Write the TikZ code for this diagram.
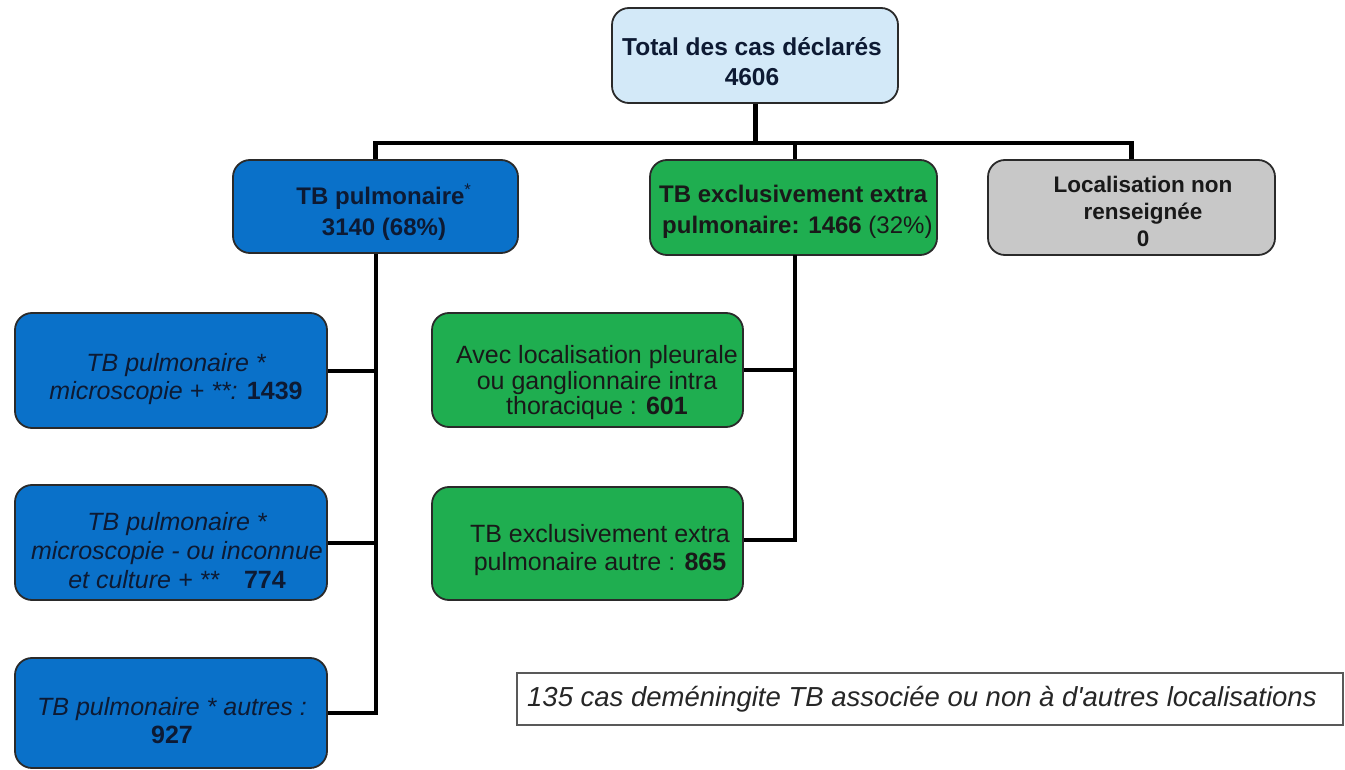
\documentclass[tikz,border=0pt]{standalone}
\usepackage{fontspec}
\setmainfont{Liberation Sans}
\newfontfamily\notefont{Liberation Sans}
\definecolor{topblue}{HTML}{D3E9F8}
\definecolor{pulmblue}{HTML}{0A71C9}
\definecolor{extragreen}{HTML}{1FAE50}
\definecolor{greybox}{HTML}{C8C8C8}
\definecolor{navytxt}{HTML}{0D1A33}
\definecolor{bordercol}{HTML}{2A2A2A}
\begin{document}
\begin{tikzpicture}[x=1pt,y=-1pt,
  box/.style={draw=bordercol,line width=1.8pt,rounded corners=17pt,inner sep=0pt},
  topbox/.style={box,fill=topblue,minimum width=286pt,minimum height=95pt},
  pulmbox/.style={box,fill=pulmblue,minimum height=93pt},
  subpulm/.style={box,fill=pulmblue,minimum width=312pt},
  greenbox/.style={box,fill=extragreen},
  graybox/.style={box,fill=greybox,minimum width=287pt,minimum height=95pt},
  txt/.style={align=center,inner sep=0pt},
  conn/.style={line width=4pt,black},
  bus/.style={line width=4.5pt,black}
]
\useasboundingbox (0,0) rectangle (1345,770);

% boxes
\node[topbox] (total) at (755,55.5) {};
\node[pulmbox,minimum width=285pt] (pulm) at (375.5,206.5) {};
\node[greenbox,minimum width=287pt,minimum height=95pt] (extra) at (793.5,207.5) {};
\node[graybox] (nonr) at (1131.5,207.5) {};

\node[subpulm,minimum height=115pt] (p1) at (171,370.5) {};
\node[subpulm,minimum height=115pt] (p2) at (171,542.5) {};
\node[subpulm,minimum height=110pt] (p3) at (171,713) {};

\node[greenbox,minimum width=311pt,minimum height=114pt] (e1) at (587.5,370) {};
\node[greenbox,minimum width=311pt,minimum height=113pt] (e2) at (587.5,543.5) {};

\node[draw=black!65,line width=1.5pt,fill=white,minimum width=826pt,minimum height=52pt,inner sep=0pt] (note) at (930,699) {};

% texts
\node[txt,font=\fontsize{24.5}{30}\selectfont\bfseries,text=navytxt] (ttotal) at (752,62) {Total des cas déclarés\\4606};
\node[txt,font=\fontsize{24}{31}\selectfont\bfseries,text=navytxt] (tpulm) at (384,212) {TB pulmonaire\textsuperscript{\mdseries*}\\3140 (68\%)};
\node[txt,align=left,anchor=west,font=\fontsize{24}{31}\selectfont\bfseries,text=black!90] (textra) at (659,212) {TB exclusivement extra\\\hspace{3pt}pulmonaire: 1466 {\mdseries(32\%)}};
\node[txt,font=\fontsize{22.5}{27}\selectfont\bfseries,text=black!90] (tnonr) at (1143,211.5) {Localisation non\\renseignée\\0};

\node[txt,font=\fontsize{25}{28}\selectfont\itshape,text=navytxt] (tp1) at (176,379) {TB pulmonaire *\\microscopie + **: \textbf{\upshape 1439}};
\node[txt,font=\fontsize{25}{29}\selectfont\itshape,text=navytxt] (tp2) at (177,551) {TB pulmonaire *\\microscopie - ou inconnue\\et culture + **\quad\textbf{\upshape 774}};
\node[txt,font=\fontsize{25}{28}\selectfont\itshape,text=navytxt] (tp3) at (172,721) {TB pulmonaire * autres :\\\textbf{\upshape 927}};

\node[txt,font=\fontsize{25}{25.5}\selectfont,text=black!90] (te1) at (597,383) {Avec localisation pleurale\\ou ganglionnaire intra\\thoracique : \textbf{601}};
\node[txt,font=\fontsize{25}{28}\selectfont,text=black!90] (te2) at (600,550) {TB exclusivement extra\\pulmonaire autre : \textbf{865}};

\node[txt,anchor=west,font=\notefont\fontsize{27.5}{30}\selectfont\itshape,text=black!85] (tnote) at (527,699) {135 cas deméningite TB associée ou non à d'autres localisations};

% connectors
\coordinate (busc) at (755,143);
\draw[line width=5pt] (total.south) -- (busc);
\draw[bus] (pulm.north) |- (busc) -| (nonr.north);
\draw[conn] (extra.north -| 795,0) -- (795,143);
\draw[conn] (p1.east) -| (pulm.south);
\draw[conn] (p2.east) -| (pulm.south);
\draw[conn] (p3.east) -| (pulm.south);
\coordinate (etrunk) at (795,255);
\draw[conn] (e1.east) -| (etrunk);
\draw[conn] (e2.east |- 0,540) -| (etrunk);
\end{tikzpicture}
\end{document}
